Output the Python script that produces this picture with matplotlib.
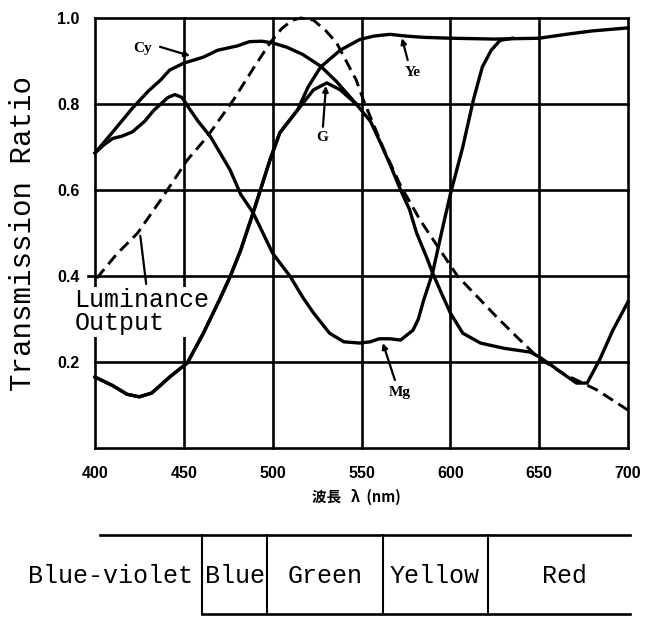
import matplotlib
matplotlib.use('Agg')
import matplotlib.pyplot as plt

# transmission curves (wavelength nm, ratio)
cy_wl = [400, 410, 421, 430, 437, 442, 450, 461, 469, 480, 487, 494, 500, 508, 517, 527, 536, 547]
cy_tr = [0.686, 0.735, 0.79, 0.83, 0.856, 0.879, 0.895, 0.909, 0.925, 0.935, 0.945, 0.946, 0.942, 0.932, 0.915, 0.888, 0.852, 0.80]

g_wl = [400, 410, 418, 425, 432, 442, 452, 461, 470, 476, 482, 489, 498.5, 504, 514, 523, 530.5, 538, 547]
g_tr = [0.165, 0.145, 0.125, 0.119, 0.128, 0.165, 0.198, 0.267, 0.344, 0.398, 0.46, 0.547, 0.67, 0.733, 0.786, 0.833, 0.849, 0.833, 0.80]

# red side shared by Cy and G
tail_wl = [547, 555, 560, 566, 572, 577, 581, 587, 590, 595, 600, 607, 617, 630, 645, 650, 657, 663, 671, 677, 684, 691.5, 700]
tail_tr = [0.80, 0.76, 0.716, 0.66, 0.60, 0.555, 0.50, 0.44, 0.407, 0.36, 0.314, 0.267, 0.244, 0.232, 0.223, 0.212, 0.192, 0.174, 0.151, 0.151, 0.205, 0.274, 0.34]

ye_wl = [400, 410, 418, 425, 432, 442, 452, 461, 470, 476, 482, 489, 498.5, 504, 514, 520, 527, 538, 549, 557, 566, 575, 585, 600, 625, 650, 665, 680, 700]
ye_tr = [0.165, 0.145, 0.125, 0.119, 0.128, 0.165, 0.198, 0.267, 0.344, 0.398, 0.46, 0.547, 0.67, 0.733, 0.786, 0.84, 0.886, 0.925, 0.95, 0.958, 0.962, 0.958, 0.955, 0.953, 0.951, 0.953, 0.962, 0.970, 0.977]

mg_wl = [400, 405, 410, 415, 421, 428, 433, 437, 441, 445, 449, 453, 458, 465, 476, 482, 489, 500, 510, 517, 523, 532, 540, 549, 555, 560, 566, 572, 579, 582, 585, 590, 595, 600, 607, 613, 618, 623, 628, 635]
mg_tr = [0.686, 0.705, 0.72, 0.725, 0.735, 0.76, 0.785, 0.80, 0.815, 0.822, 0.815, 0.79, 0.76, 0.724, 0.647, 0.59, 0.547, 0.453, 0.398, 0.35, 0.314, 0.267, 0.247, 0.244, 0.247, 0.254, 0.254, 0.251, 0.274, 0.30, 0.344, 0.407, 0.50, 0.59, 0.70, 0.81, 0.886, 0.925, 0.948, 0.953]

lum_wl = [401, 412, 424, 437, 452, 463, 478, 489, 498.5, 505, 511, 516, 523, 530, 536, 547, 551, 562, 572, 583, 598, 604, 617, 626, 637.5, 649, 663, 682.5, 700]
lum_tr = [0.395, 0.45, 0.50, 0.577, 0.67, 0.723, 0.81, 0.882, 0.942, 0.975, 0.995, 1.0, 0.995, 0.97, 0.942, 0.856, 0.81, 0.70, 0.61, 0.53, 0.437, 0.40, 0.344, 0.305, 0.258, 0.212, 0.174, 0.135, 0.088]

x_ticks = [400, 450, 500, 550, 600, 650, 700]
y_ticks = [0.2, 0.4, 0.6, 0.8, 1.0]

band_names = ['Blue-violet', 'Blue', 'Green', 'Yellow', 'Red']
band_edges = [460, 497, 562, 621]
band_mid = [409, 479, 529.5, 591, 664.5]

W, H = 646, 617
fig = plt.figure(figsize=(W / 100, H / 100), dpi=100)
ax = fig.add_axes([95 / W, 1 - 448 / H, (628 - 95) / W, (448 - 18) / H])
ax.set_xlim(400, 700)
ax.set_ylim(0, 1)
for s in ax.spines.values():
    s.set_visible(False)

# grid + frame drawn by hand so the label box can cut through it
for x in x_ticks:
    ax.plot([x, x], [0, 1], color='black', lw=1.9, zorder=1, clip_on=False)
for y in [0, 0.2, 0.4, 0.6, 0.8, 1.0]:
    x0 = 396 if y == 0.4 else 400
    ax.plot([x0, 700], [y, y], color='black', lw=1.9, zorder=1, clip_on=False)

lw = 2.4
ax.plot(cy_wl, cy_tr, color='black', lw=lw, zorder=3, clip_on=False)
ax.plot(g_wl, g_tr, color='black', lw=lw, zorder=3, clip_on=False)
ax.plot(tail_wl, tail_tr, color='black', lw=lw, zorder=3, clip_on=False)
ax.plot(ye_wl, ye_tr, color='black', lw=lw, zorder=3, clip_on=False)
ax.plot(mg_wl, mg_tr, color='black', lw=lw, zorder=3, clip_on=False)
ax.plot(lum_wl, lum_tr, color='black', lw=2.1, ls=(0, (4, 2.2)), zorder=3, clip_on=False)

ax.text(388.5, 0.372, 'Luminance\nOutput', family='Liberation Mono', fontsize=18,
        linespacing=0.95, ha='left', va='top', zorder=2,
        bbox=dict(facecolor='white', edgecolor='none', pad=1))
ax.annotate('', xy=(425.3, 0.50), xytext=(429, 0.375),
            arrowprops=dict(arrowstyle='-', lw=1.6, color='black'), zorder=3)

lab = dict(family='Liberation Serif', fontweight='bold', fontsize=11, ha='center', va='center')
arr = dict(arrowstyle='-|>', lw=1.6, color='black', mutation_scale=8, shrinkA=0, shrinkB=0)
ax.text(427, 0.930, 'Cy', **lab)
ax.annotate('', xy=(453.5, 0.912), xytext=(436.6, 0.933), arrowprops=arr)
ax.text(579, 0.874, 'Ye', **lab)
ax.annotate('', xy=(572.8, 0.953), xytext=(576, 0.902), arrowprops=arr)
ax.text(527.7, 0.721, 'G', **lab)
ax.annotate('', xy=(530, 0.842), xytext=(528.3, 0.747), arrowprops=arr)
ax.text(571.6, 0.128, 'Mg', **lab)
ax.annotate('', xy=(562, 0.244), xytext=(568.8, 0.158), arrowprops=arr)

ax.set_xticks(x_ticks)
ax.set_xticklabels([str(v) for v in x_ticks])
ax.set_yticks(y_ticks)
ax.set_yticklabels(['%.1f' % v for v in y_ticks])
ax.tick_params(length=0)
ax.tick_params(axis='x', pad=13)
ax.tick_params(axis='y', pad=11)
for t in ax.get_xticklabels() + ax.get_yticklabels():
    t.set_family('Liberation Sans')
    t.set_fontweight('bold')
    t.set_fontsize(11.5)

fig.text(23 / W, 1 - 233 / H, 'Transmission Ratio', rotation=90, family='Liberation Mono',
         fontsize=21, ha='center', va='center')
fig.text(356 / W, 1 - 497 / H, '波長   λ  (nm)', family=['Noto Sans CJK JP', 'DejaVu Sans'],
         fontweight='bold', fontsize=10.5, ha='center', va='center')

# colour band table under the chart
tab = fig.add_axes([95 / W, 0, (628 - 95) / W, 92 / H])
tab.set_xlim(400, 700)
tab.set_ylim(0, 1)
tab.axis('off')
top, bot = (617 - 535) / 92, (617 - 614) / 92
tab.plot([402.8, 701], [top, top], color='black', lw=1.9, clip_on=False)
tab.plot([band_edges[0], 701], [bot, bot], color='black', lw=1.9, clip_on=False)
for e in band_edges:
    tab.plot([e, e], [bot, top], color='black', lw=1.5, clip_on=False)
for name, m in zip(band_names, band_mid):
    tab.text(m, (617 - 576) / 92, name, family='Liberation Mono', fontsize=18,
             ha='center', va='center')

fig.savefig('out.png', dpi=100)
